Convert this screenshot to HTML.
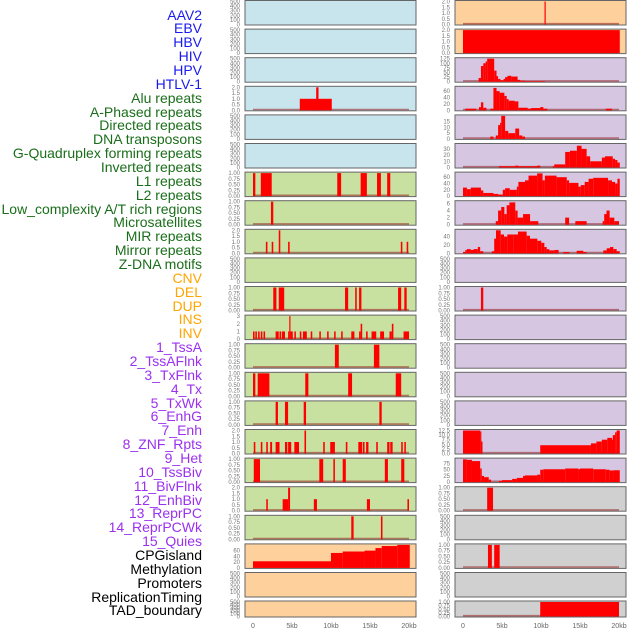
<!DOCTYPE html>
<html><head><meta charset="utf-8">
<style>
html,body{margin:0;padding:0;background:#fff;}
#wrap{position:relative;width:630px;height:630px;overflow:hidden;font-family:"Liberation Sans",sans-serif;}
.lbl{position:absolute;right:428px;font-size:14px;line-height:14px;white-space:nowrap;}
</style></head>
<body>
<div id="wrap">
<svg id="svg" width="630" height="630" style="position:absolute;left:0;top:0"></svg>
</div>
<script>
// ---- track labels ----
const trackNames = ["AAV2","EBV","HBV","HIV","HPV","HTLV-1","Alu repeats","A-Phased repeats","Directed repeats","DNA transposons","G-Quadruplex forming repeats","Inverted repeats","L1 repeats","L2 repeats","Low_complexity A/T rich regions","Microsatellites","MIR repeats","Mirror repeats","Z-DNA motifs","CNV","DEL","DUP","INS","INV","1_TssA","2_TssAFlnk","3_TxFlnk","4_Tx","5_TxWk","6_EnhG","7_Enh","8_ZNF_Rpts","9_Het","10_TssBiv","11_BivFlnk","12_EnhBiv","13_ReprPC","14_ReprPCWk","15_Quies","CPGisland","Methylation","Promoters","ReplicationTiming","TAD_boundary"];
const trackGroups = [6,13,5,15,5];
const groupColors = ["#1a1aee","#1a6e1a","#ffa500","#9b30ee","#000000"];

// ---- panel data: segments [startKb, endKb, value] ----
const L3 = [[6.0,10.1,1],[8.1,8.4,2]];
const L6 = [[0,0.3,1],[1.0,2.4,1],[10.8,11.3,1],[13.8,14.6,1],[15.9,16.4,1],[17.2,17.6,1]];
const L7 = [[2.3,2.6,1]];
const L8 = [[1.65,1.85,1],[2.4,2.6,1],[3.3,3.5,2],[4.5,4.7,1],[18.95,19.15,1],[19.7,19.9,1]];
const L10 = [[2.6,3.0,1],[3.3,4.0,1],[11.8,12.2,1],[13.1,13.3,1],[13.6,13.9,1],[18.6,19.0,1],[19.4,19.7,1]];
const L11 = [[0,0.2,1],[0.3,0.5,1],[0.65,0.85,1],[1.0,1.2,1],[1.35,1.55,1],[2.9,3.3,1],[3.4,3.6,1],[3.7,4.1,1],[4.5,4.65,1],[4.65,4.8,3],[4.8,5.1,1],[5.3,5.5,1],[6.0,6.2,1],[6.4,6.9,1],[7.4,7.6,1],[8.5,8.7,1],[9.5,9.7,1],[10.4,10.6,1],[11.3,11.5,1],[12.6,13.0,1],[13.6,13.8,1],[13.8,14.0,2],[14.5,14.7,1],[15.2,15.8,1],[16.3,16.8,1],[17.5,17.8,1],[17.8,18.0,2],[19.3,20.0,1]];
const L12 = [[10.5,11.0,1],[15.5,16.2,1]];
const L13 = [[0,0.3,1],[0.6,2.1,1],[6.7,7.1,1],[12.2,12.7,1],[18.3,19.0,1]];
const L14 = [[2.9,3.2,1],[4.1,4.5,1],[6.5,6.8,1],[16.2,16.5,1]];
const L15 = [[0.1,0.3,1],[1.0,1.2,1],[1.7,1.9,1],[2.2,2.45,1],[2.9,3.4,1],[4.1,4.4,1],[4.5,4.9,1],[5.3,5.9,1],[6.6,6.8,2],[9.0,9.2,1],[9.9,10.5,1],[11.9,12.1,1],[13.5,14.0,1],[14.1,14.3,1],[14.5,14.8,1],[15.8,16.0,1],[17.2,17.5,1],[17.6,17.9,1],[19.0,19.2,1],[19.4,19.6,1]];
const L16 = [[0.1,0.9,1],[8.5,9.0,1],[10.3,10.5,1],[11.5,11.9,1],[16.9,17.3,1],[19.0,19.4,1]];
const L17 = [[1.7,1.9,1],[3.8,4.5,1],[4.5,4.75,2],[7.8,8.2,1],[14.6,15.0,1],[19.8,20.0,1]];
const L18 = [[12.6,12.9,1],[16.4,16.6,1]];
const L19 = [[0,10,23],[10,11.5,52],[11.5,14.3,57],[14.3,15.7,60],[15.7,16.5,69],[16.5,18.5,76],[18.5,20.1,80]];

const R0 = [[10.45,10.6,2]];
const R1 = [[0,20.1,2]];
const R2 = [[2.0,2.3,20],[2.3,2.6,85],[2.6,2.9,100],[2.9,3.1,110],[3.1,4.0,125],[4.0,4.3,60],[4.3,4.5,30],[4.5,4.8,15],[4.8,5.2,8],[5.2,5.4,15],[5.4,5.7,25],[5.7,6.2,32],[6.2,7.0,28],[7.0,7.35,10],[7.35,8.0,5],[8.0,10.5,3]];
const R3 = [[0.3,1.7,5],[2.05,2.3,10],[2.3,2.6,25],[2.6,3.0,8],[3.5,3.9,5],[3.9,4.3,70],[4.3,4.7,60],[4.7,5.3,55],[5.3,5.6,45],[5.6,5.85,35],[5.85,6.6,30],[6.6,7.1,28],[7.1,8.3,8],[8.3,8.7,5],[8.7,9.9,7],[9.9,10.3,10],[10.3,10.8,5],[18.3,19.1,5]];
const R4 = [[3.5,3.9,2],[4.2,4.5,3],[4.5,4.75,12],[4.75,4.9,14],[4.9,5.4,20],[5.4,5.8,7],[5.8,6.7,5],[6.7,7.2,9],[7.2,7.6,3],[7.6,7.95,2]];
const R5 = [[4.6,6.7,2],[6.7,7.1,3],[7.1,9.5,2],[9.5,9.9,3],[11.5,11.7,2],[11.7,13.1,5],[13.1,13.7,25],[13.7,14.6,27],[14.6,15.2,35],[15.2,15.85,30],[15.85,16.3,18],[16.3,17.8,10],[17.8,18.2,16],[18.2,19.2,18],[19.2,19.5,14],[19.5,19.8,12],[19.8,20.1,8]];
const R6 = [[0,0.5,27],[0.5,1.0,22],[1.0,2.3,27],[2.3,2.6,18],[2.6,3.9,10],[3.9,4.5,7],[4.5,5.1,5],[5.1,5.4,20],[5.4,6.0,25],[6.0,6.9,20],[6.9,7.1,30],[7.1,7.95,45],[7.95,8.4,50],[8.4,9.5,65],[9.5,10.2,72],[10.2,10.5,50],[10.5,12.0,65],[12.0,13.3,60],[13.3,13.6,50],[13.6,14.8,42],[14.8,15.1,30],[15.1,15.6,35],[15.6,16.1,45],[16.1,16.7,55],[16.7,18.6,58],[18.6,19.1,50],[19.1,19.5,45],[19.5,19.8,40],[19.8,20.1,55]];
const R7 = [[4.2,4.5,1],[4.5,4.9,4],[4.9,5.3,5],[5.3,5.6,3],[5.6,5.95,5.5],[5.95,6.7,6.3],[6.7,7.0,4],[7.0,7.7,2],[7.7,8.6,3],[8.6,9.66,1],[13.1,13.6,2],[14.4,15.85,1],[17.9,18.1,1],[18.1,18.4,3],[18.4,18.8,4],[18.8,19.4,2],[19.4,20.0,1]];
const R8 = [[0,0.3,3],[0.3,0.5,8],[0.5,1.0,10],[1.0,1.35,8],[1.35,1.9,10],[1.9,2.2,15],[2.2,2.6,5],[3.7,4.0,5],[4.0,4.23,35],[4.23,4.83,55],[4.83,5.26,45],[5.26,5.68,40],[5.68,6.45,45],[6.45,7.05,45],[7.05,8.16,52],[8.16,8.59,42],[8.59,9.53,35],[9.53,10.04,30],[10.04,10.43,25],[10.43,10.73,15],[10.73,11.07,10],[11.07,11.71,7],[11.71,12.26,8],[12.86,13.63,3],[14.57,15.43,6],[15.43,15.85,3],[17.99,18.42,7],[18.42,18.85,12],[18.85,19.27,15],[19.27,19.7,10],[19.7,20.1,5]];
const R10 = [[2.3,2.6,1]];
const R15 = [[0,2.2,12.5],[2.2,2.3,12],[2.3,2.5,6.5],[9.9,16.4,4.5],[16.4,17.1,5.5],[17.1,17.8,6.5],[17.8,18.5,7.5],[18.5,19.1,8.5],[19.1,19.2,7.5],[19.2,19.5,10],[19.5,19.7,11.5],[19.7,20.1,12.5]];
const R16 = [[0,0.5,92],[0.5,1.15,90],[1.15,2.2,85],[2.2,2.4,55],[2.4,2.7,25],[2.7,3.3,20],[3.3,3.6,10],[4.6,5.0,5],[5.0,6.3,8],[6.3,6.9,13],[6.9,7.7,17],[7.7,7.95,25],[7.95,9.5,27],[9.5,9.9,30],[9.9,10.3,50],[10.3,13.1,52],[13.1,14.8,55],[14.8,15.0,52],[15.0,16.7,55],[16.7,18.3,52],[18.3,18.8,50],[18.8,19.3,47],[19.3,20.1,48]];
const R17 = [[3.1,3.85,1]];
const R19 = [[3.2,3.7,1],[4.0,4.7,1]];
const R21 = [[9.9,20.0,1]];

// ---- tick label sets ----
const ticksEmpty = ["0","100","200","300","400","500"];
const ticksFrac = ["0.00","0.25","0.50","0.75","1.00"];
const ticks2 = ["0.0","0.5","1.0","1.5","2.0"];
const ticks3 = ["0","1","2","3"];
const xTickLabels = ["0","5kb","10kb","15kb","20kb"];
const xTickValues = [0,5,10,15,20];

const BLUE="#c8e4ec", GREEN="#c8e0a0", ORANGE="#fdd09c", PURPLE="#d6c6e2", GRAY="#d0d0d0";
const E = null;
// [data, bg, tickLabels, tickMax, ymax]
const leftPanels = [
 [E,BLUE,ticksEmpty,500,500],[E,BLUE,ticksEmpty,500,500],[E,BLUE,ticksEmpty,500,500],
 [L3,BLUE,ticks2,2,2],[E,BLUE,ticksEmpty,500,500],[E,BLUE,ticksEmpty,500,500],
 [L6,GREEN,ticksFrac,1,1],[L7,GREEN,ticksFrac,1,1],[L8,GREEN,ticks2,2,2],[E,GREEN,ticksEmpty,500,500],
 [L10,GREEN,ticksFrac,1,1],[L11,GREEN,ticks3,3,3],[L12,GREEN,ticksFrac,1,1],[L13,GREEN,ticksFrac,1,1],
 [L14,GREEN,ticksFrac,1,1],[L15,GREEN,ticks2,2,2],[L16,GREEN,ticksFrac,1,1],[L17,GREEN,ticks2,2,2],
 [L18,GREEN,ticksFrac,1,1],[L19,ORANGE,["0","20","40","60"],60,80],[E,ORANGE,ticksEmpty,500,500],[E,ORANGE,ticksEmpty,500,500]
];
const rightPanels = [
 [R0,ORANGE,ticks2,2,2],[R1,ORANGE,ticks2,2,2],
 [R2,PURPLE,["0","25","50","75","100","125"],125,125],[R3,PURPLE,["0","20","40","60"],60,72],
 [R4,PURPLE,["0","5","10","15"],15,20],[R5,PURPLE,["0","10","20","30"],30,37],
 [R6,PURPLE,["0","20","40","60"],60,73],[R7,PURPLE,["0","2","4","6"],6,6.5],
 [R8,PURPLE,["0","20","40"],40,55],[E,PURPLE,ticksEmpty,500,500],[R10,PURPLE,ticksFrac,1,1],
 [E,PURPLE,ticksEmpty,500,500],[E,PURPLE,ticksEmpty,500,500],[E,PURPLE,ticksEmpty,500,500],[E,PURPLE,ticksEmpty,500,500],
 [R15,PURPLE,["0.0","2.5","5.0","7.5","10.0","12.5"],12.5,12.5],[R16,PURPLE,["0","25","50","75"],75,93],
 [R17,GRAY,ticksFrac,1,1],[E,GRAY,ticksEmpty,500,500],[R19,GRAY,ticksFrac,1,1],[E,GRAY,ticksEmpty,500,500],[R21,GRAY,ticksFrac,1,1]
];

const NS="http://www.w3.org/2000/svg";
const svg=document.getElementById('svg');
function mk(tag,attrs,parent){const e=document.createElementNS(NS,tag);for(const k in attrs)e.setAttribute(k,attrs[k]);(parent||svg).appendChild(e);return e;}

// labels
const wrap=document.getElementById('wrap');
let gi=0,gc=0;
trackNames.forEach((n,i)=>{
  while(gc>=trackGroups[gi]){gi++;gc=0;}
  gc++;
  const d=document.createElement('div');
  d.className='lbl';
  d.textContent=n;
  d.style.top=(15+i*13.86-7.5)+'px';
  d.style.color=groupColors[gi];
  
  
  wrap.appendChild(d);
});

function drawColumn(panels,colX,colName){
  const px0=colX, pw=171;
  const xScale=kb=>px0+8+kb*7.8;
  panels.forEach((p,i)=>{
    const [data,bg,tl,tmax,ymax]=p;
    const top = i<21 ? i*28.6+0.5 : 601;
    const h = i<21 ? 24.5 : 16;
    const g=mk('g',{});
    
    
    const r=mk('rect',{x:px0,y:top,width:pw,height:h,fill:bg,stroke:'#666','stroke-width':1},g);
    
    
    const y0=top+h-0.5, usable=h-1.5;
    const yScale=v=>y0-(v/ymax)*usable;
    if(data){
      const bl=mk('line',{x1:xScale(0),x2:xScale(20),y1:y0-0.8,y2:y0-0.8,stroke:'rgba(150,30,30,0.55)','stroke-width':1.6},g);
      
      
      data.forEach(s=>{
        const x1=xScale(s[0]),x2=xScale(s[1]),yv=yScale(s[2]);
        const b=mk('rect',{x:x1,y:yv,width:Math.max(x2-x1,1.2),height:y0-yv,fill:'#ff0000'},g);
        
        
      });
    }
    const n=tl.length;
    tl.forEach((t,k)=>{
      const v=tmax*k/(n-1);
      const ty=yScale(v);
      const te=mk('text',{x:px0-5,y:ty+2,'text-anchor':'end','font-size':6,fill:'#777','font-family':'Liberation Sans, sans-serif'},g);
      te.textContent=t;
      
      
    });
  });
  xTickValues.forEach((v,k)=>{
    const t=mk('text',{x:xScale(v),y:628,'text-anchor':'middle','font-size':7,fill:'#666','font-family':'Liberation Sans, sans-serif'});
    t.textContent=xTickLabels[k];
    
    
  });
}
drawColumn(leftPanels,245,'left');
drawColumn(rightPanels,455,'right');
</script>
</body></html>
